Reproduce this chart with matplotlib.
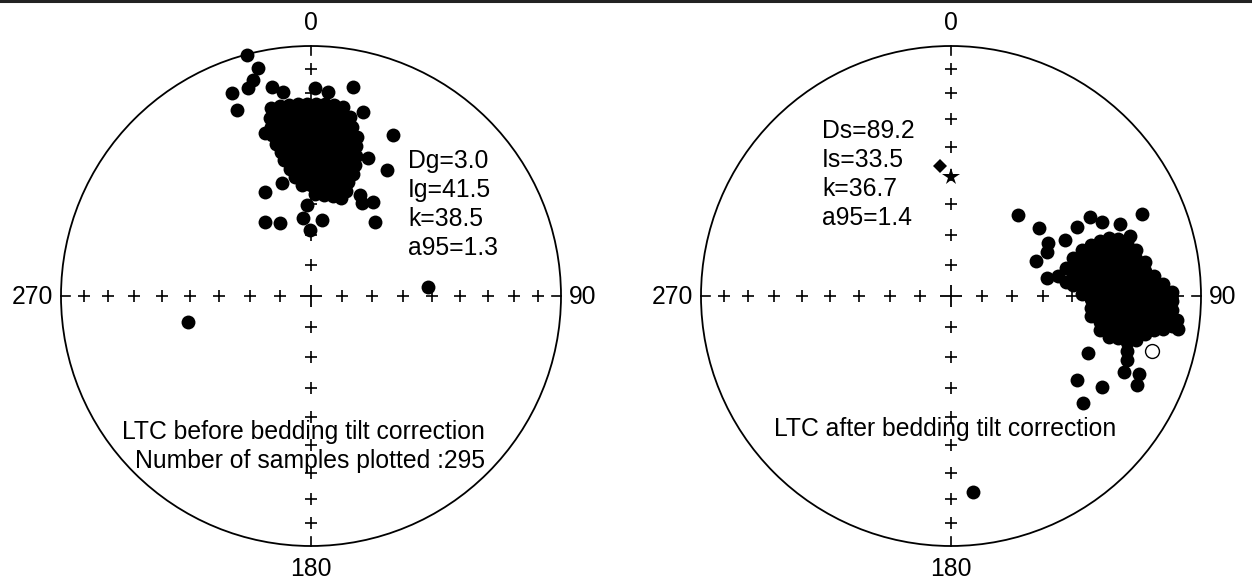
import numpy as np
import matplotlib.pyplot as plt
from matplotlib.patches import Circle
from matplotlib.lines import Line2D

plt.rcParams['font.family'] = ['Liberation Sans', 'DejaVu Sans']

# ---- data: directions (declination, inclination) in degrees ----
# before tilt correction (geographic)
geo_dec = [348.0, 350.7, 353.4, 356.1, 358.8, 1.5, 4.2, 6.9, 9.6,
           347.1, 349.9, 352.7, 355.5, 358.3, 1.1, 3.9, 6.7, 9.5, 12.3,
           346.7, 349.7, 352.7, 355.7, 358.7, 1.7, 4.7, 7.7, 10.7, 13.7,
           346.4, 349.5, 352.6, 355.7, 358.8, 1.9, 5.0, 8.1, 11.2, 14.3, 16.0,
           347.0, 350.3, 353.6, 356.9, 0.2, 3.5, 6.8, 10.1, 13.4, 16.7,
           348.1, 351.6, 355.1, 358.6, 2.1, 5.6, 9.1, 12.6, 16.1, 18.0,
           348.9, 352.6, 356.3, 0.0, 3.7, 7.4, 11.1, 14.8, 18.5,
           350.8, 354.8, 358.8, 2.8, 6.8, 10.8, 14.8, 18.8,
           352.4, 356.7, 1.0, 5.3, 9.6, 13.9, 18.2,
           355.4, 0.0, 4.6, 9.2, 13.8, 18.4,
           2.2, 7.2, 12.2, 17.2,
           345.2, 346.9, 345.0, 343.2, 338.7, 338.3, 349.4, 352.2, 1.1, 4.8,
           11.4, 15.8, 27.0, 31.1, 22.4, 344.2, 336.1, 345.6, 328.1, 337.0,
           354.1, 359.1, 8.2, 357.5, 40.9, 33.4, 28.7, 25.9, 85.6, 258.1]
geo_inc = [24.2] * 9 + [27.7] * 10 + [31.0] * 10 + [34.3] * 11 + [37.6] * 10 \
    + [40.8] * 10 + [44.0] * 9 + [47.2] * 8 + [50.3] * 7 + [53.4] * 6 + [56.4] * 4 \
    + [0.5, 7.1, 11.5, 14.1, 14.0, 21.0, 16.1, 18.8, 17.9, 19.3,
       15.8, 24.5, 28.5, 40.8, 40.0, 32.7, 52.5, 51.5, 61.5, 64.1,
       64.3, 68.5, 64.9, 60.1, 57.9, 52.9, 55.1, 53.0, 51.2, 48.3]

# after tilt correction (stratigraphic)
strat_dec = [79.4, 79.4, 83.1, 76.3,
             72.7, 76.6, 80.7, 84.8,
             70.65, 74.2, 77.9, 81.75, 85.6, 89.1,
             70.0, 73.3, 76.7, 80.3, 83.9, 87.5, 91.2, 94.9, 98.1,
             69.7, 72.8, 76.1, 79.4, 82.7, 86.2, 89.6, 93.1, 96.5, 99.9, 102.9,
             69.8, 72.8, 75.8, 78.9, 82.1, 85.3, 88.5, 91.8, 95.1, 98.3, 101.5, 104.5,
             71.15, 74.0, 76.9, 79.8, 82.8, 85.9, 89.0, 92.1, 95.1, 98.2, 101.2, 104.1,
             73.2, 76.0, 78.8, 81.6, 84.5, 87.4, 90.3, 93.3, 96.2, 99.0, 101.9, 104.6, 107.4, 110.0,
             76.0, 78.7, 81.4, 84.1, 86.9, 89.7, 92.5, 95.25, 98.0, 100.7, 103.4,
             80.1, 82.7, 85.3, 87.9, 90.6, 93.2, 95.9, 98.5, 101.1,
             84.4, 86.9, 89.4, 92.0, 94.5, 97.0, 99.5,
             86.8, 89.2, 91.6, 94.0, 96.5, 98.8,
             89.0, 91.3, 93.6, 95.9, 97.7,
             96.1, 98.3,
             39.6, 52.3, 61.3, 65.4, 67.6, 63.8, 61.3, 60.4, 63.9, 66.9,
             66.8, 71.5, 112.6, 123.7, 121.1, 129.0, 113.7, 112.5, 115.6, 173.6]
strat_inc = [57.9, 54.1, 51.7, 50.8,
             47.6, 48.5, 49.1, 49.5,
             43.7, 44.9, 45.6, 46.1, 46.4, 46.5,
             40.2, 41.1, 42.0, 42.6, 43.0, 43.3, 43.3, 43.1, 42.8,
             36.6, 37.7, 38.5, 39.2, 39.7, 40.0, 40.2, 40.1, 39.8, 39.3, 38.8,
             33.1, 34.2, 35.1, 35.8, 36.4, 36.7, 36.9, 36.9, 36.7, 36.3, 35.8, 35.0,
             30.1, 31.1, 31.9, 32.6, 33.1, 33.4, 33.6, 33.6, 33.4, 33.0, 32.5, 31.7,
             27.4, 28.3, 29.0, 29.6, 30.0, 30.3, 30.3, 30.2, 30.0, 29.5, 28.9, 28.1, 27.2, 26.1,
             24.8, 25.5, 26.1, 26.5, 26.8, 26.9, 26.8, 26.6, 26.2, 25.7, 24.9,
             22.3, 22.9, 23.2, 23.4, 23.5, 23.4, 23.1, 22.6, 22.0,
             19.5, 19.8, 19.9, 19.9, 19.7, 19.3, 18.8,
             16.2, 16.3, 16.3, 16.1, 15.7, 15.2,
             12.6, 12.6, 12.4, 12.1, 11.8,
             9.9, 9.0,
             55.4, 53.3, 53.5, 55.2, 59.9, 47.9, 42.0, 36.2, 33.1, 27.4,
             17.9, 25.5, 40.4, 39.3, 30.2, 32.5, 25.4, 19.7, 18.6, 22.2]
strat_up_dec = [105.3]   # upper hemisphere (open symbol)
strat_up_inc = [-17.7]

star_dir = (0.0, 50.6)
diamond_dir = (355.2, 46.7)

geo_stats = ['Dg=3.0', 'Ig=41.5', 'k=38.5', 'a95=1.3']
strat_stats = ['Ds=89.2', 'Is=33.5', 'k=36.7', 'a95=1.4']
tick_incs = [10, 20, 30, 40, 50, 60, 70, 80]
tick_decs = [0, 90, 180, 270]


def project(dec, inc):
    dec = np.radians(np.asarray(dec, dtype=float))
    inc = np.abs(np.asarray(inc, dtype=float))
    r = np.sqrt(2) * np.sin(np.radians(90 - inc) / 2)
    return r * np.sin(dec), r * np.cos(dec)


R_PX = 250.0
fig = plt.figure(figsize=(12.52, 5.87), dpi=100)
W, H = 1252, 587
FS = 17.8


def make_net(cx, x0, x1):
    ax = fig.add_axes([x0 / W, 0, (x1 - x0) / W, 1])
    ax.set_xlim((x0 - cx) / R_PX, (x1 - cx) / R_PX)
    ax.set_ylim((296 - H) / R_PX, 296 / R_PX)
    ax.axis('off')
    ax.add_patch(Circle((0, 0), 1, fill=False, lw=1.3, color='black'))
    # inclination crosses along the four axes
    for d in tick_decs:
        tx, ty = project([d] * len(tick_incs), tick_incs)
        ax.plot(tx, ty, '+', ms=8, mew=1.2, color='black', zorder=2)
        ex, ey = np.sin(np.radians(d)), np.cos(np.radians(d))
        ax.plot([ex, 0.965 * ex], [ey, 0.965 * ey], color='black', lw=1.2)
    ax.plot(0, 0, '+', ms=16, mew=1.3, color='black')
    kw = dict(fontsize=FS, color='black')
    ax.text(0, (296 - 30) / R_PX, '0', ha='center', va='baseline', **kw)
    ax.text(0, (296 - 576) / R_PX, '180', ha='center', va='baseline', **kw)
    ax.text(-1.03, (296 - 304) / R_PX, '270', ha='right', va='baseline', **kw)
    ax.text(1.03, (296 - 304) / R_PX, '90', ha='left', va='baseline', **kw)
    return ax


axL = make_net(311, 0, 626)
axR = make_net(951, 626, 1252)

# left: geographic
gx, gy = project(geo_dec, geo_inc)
axL.plot(gx, gy, 'o', ms=10, mew=0, color='black', zorder=3)
for i, s in enumerate(geo_stats):
    axL.text(0.388, (296 - 168 - 29 * i) / R_PX, s, fontsize=FS,
             ha='left', va='baseline')
axL.text(0.696, (296 - 439) / R_PX, 'LTC before bedding tilt correction',
         fontsize=FS, ha='right', va='baseline', zorder=1)
axL.text(0.696, (296 - 468) / R_PX, 'Number of samples plotted :295',
         fontsize=FS, ha='right', va='baseline', zorder=1)

# right: stratigraphic
ux, uy = project(strat_up_dec, strat_up_inc)
axR.plot(ux, uy, 'o', ms=10, mew=1.0, mfc='white', mec='black', zorder=2.5)
sx, sy = project(strat_dec, strat_inc)
axR.plot(sx, sy, 'o', ms=10, mew=0, color='black', zorder=3)
px, py = project(*star_dir)
axR.plot(px, py, '*', ms=13, mew=0, color='black', zorder=4)
qx, qy = project(*diamond_dir)
axR.plot(qx, qy, 'D', ms=7.5, mew=0, color='black', zorder=4)
for i, s in enumerate(strat_stats):
    axR.text(-0.516, (296 - 138 - 29 * i) / R_PX, s, fontsize=FS,
             ha='left', va='baseline')
axR.text(-0.024, (296 - 436) / R_PX, 'LTC after bedding tilt correction',
         fontsize=FS, ha='center', va='baseline', zorder=1)

fig.add_artist(Line2D([0, 1], [1 - 1.2 / H, 1 - 1.2 / H], color='#222222', lw=2.2,
                      transform=fig.transFigure))

fig.savefig('out.png', dpi=100, facecolor='white')
